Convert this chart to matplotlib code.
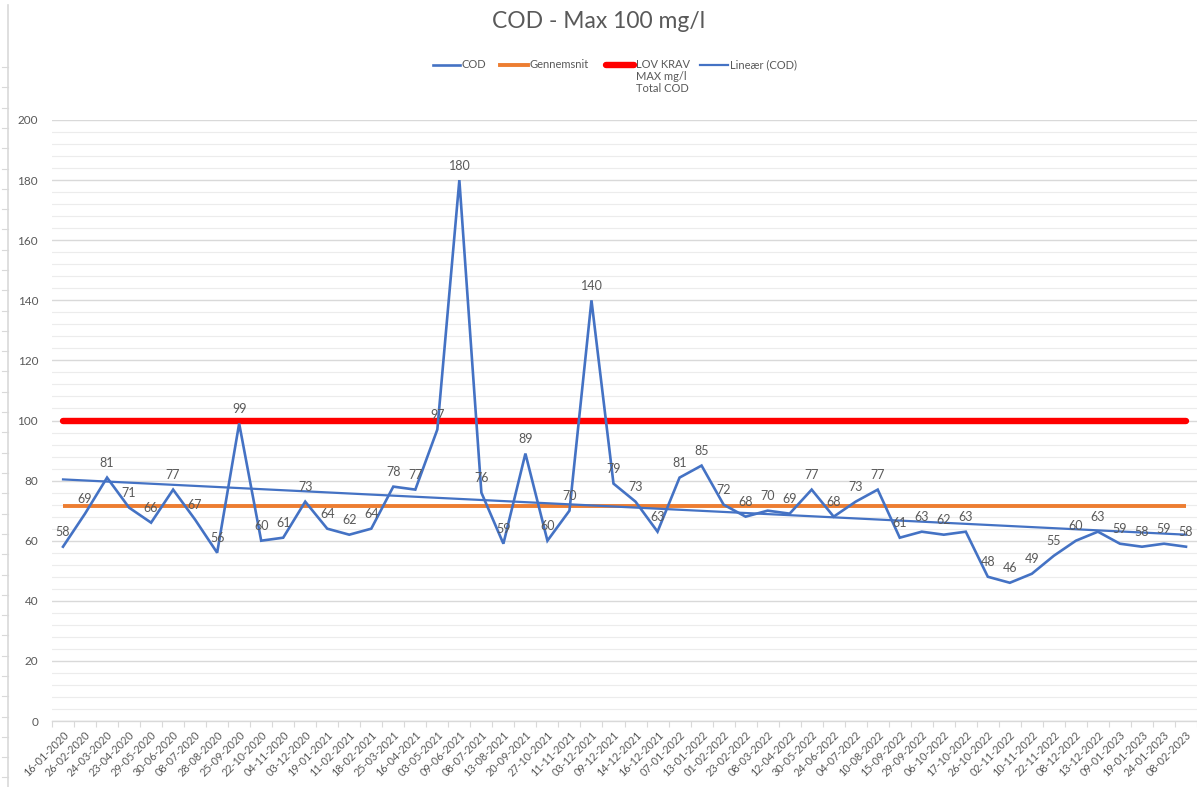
import matplotlib
matplotlib.use("Agg")
import matplotlib.pyplot as plt
from matplotlib.lines import Line2D
import numpy as np

plt.rcParams['font.family'] = ['Lato', 'DejaVu Sans']

dates = ["16-01-2020", "26-02-2020", "24-03-2020", "23-04-2020", "29-05-2020", "30-06-2020",
         "08-07-2020", "28-08-2020", "25-09-2020", "22-10-2020", "04-11-2020", "03-12-2020",
         "19-01-2021", "11-02-2021", "18-02-2021", "25-03-2021", "16-04-2021", "03-05-2021",
         "09-06-2021", "08-07-2021", "13-08-2021", "20-09-2021", "27-10-2021", "11-11-2021",
         "03-12-2021", "09-12-2021", "14-12-2021", "16-12-2021", "07-01-2022", "13-01-2022",
         "01-02-2022", "23-02-2022", "08-03-2022", "12-04-2022", "30-05-2022", "24-06-2022",
         "04-07-2022", "10-08-2022", "15-09-2022", "29-09-2022", "06-10-2022", "17-10-2022",
         "26-10-2022", "02-11-2022", "10-11-2022", "22-11-2022", "08-12-2022", "13-12-2022",
         "09-01-2023", "19-01-2023", "24-01-2023", "08-02-2023"]
cod = [58, 69, 81, 71, 66, 77, 67, 56, 99, 60, 61, 73,
       64, 62, 64, 78, 77, 97, 180, 76, 59, 89, 60, 70,
       140, 79, 73, 63, 81, 85, 72, 68, 70, 69, 77, 68,
       73, 77, 61, 63, 62, 63, 48, 46, 49, 55, 60, 63,
       59, 58, 59, 58]
gennemsnit = 71.4
lov_krav = 100
trend_start = 80.4
trend_end = 62.0
series_names = ["COD", "Gennemsnit", "LOV KRAV\nMAX mg/l\nTotal COD", "Lineær (COD)"]

BLUE = "#4472C4"
ORANGE = "#ED7D31"
RED = "#FF0000"
TXT = "#595959"

W, H = 1197, 787
fig = plt.figure(figsize=(W/100, H/100), dpi=100)
ax = fig.add_axes([52/W, 1-721/H, (W-52)/W, (721-120)/H])

n = len(cod)
x = np.arange(n)

# gridlines
for v in range(0, 201, 4):
    if v % 20 == 0:
        ax.axhline(v, color="#d9d9d9", lw=1.0, zorder=0)
    else:
        ax.axhline(v, color="#ececec", lw=0.8, zorder=0)

ax.plot([x[0], x[-1]], [lov_krav, lov_krav], color=RED, lw=4.6, solid_capstyle='round', zorder=2)
ax.plot([x[0], x[-1]], [gennemsnit, gennemsnit], color=ORANGE, lw=2.8, solid_capstyle='butt', zorder=2)
ax.plot([x[0], x[-1]], [trend_start, trend_end], color=BLUE, lw=1.6, zorder=3)
ax.plot(x, cod, color=BLUE, lw=1.9, zorder=4, solid_joinstyle='miter')

for xi, v in zip(x, cod):
    ax.annotate(str(v), (xi, v), xytext=(0, 6), textcoords='offset points',
                ha='center', va='bottom', fontsize=9, color=TXT, zorder=5)

ax.set_xlim(-0.5, n - 0.5)
ax.set_ylim(0, 200)
ax.set_yticks(range(0, 201, 20))
ax.set_yticklabels([str(v) for v in range(0, 201, 20)])
ax.tick_params(axis='y', length=0, labelsize=8.5, labelcolor=TXT, pad=10)
ax.set_xticks(x)
ax.set_xticklabels(dates, rotation=45, ha='right', rotation_mode='anchor')
ax.tick_params(axis='x', length=0, labelsize=7.8, labelcolor=TXT, pad=6)
ax.set_xticks(np.arange(n + 1) - 0.5, minor=True)
ax.tick_params(axis='x', which='minor', length=4, color="#d9d9d9", width=0.8)
for s in ['top', 'right', 'left']:
    ax.spines[s].set_visible(False)
ax.spines['bottom'].set_color("#d9d9d9")
ax.spines['bottom'].set_linewidth(1.0)

fig.text(0.5, 1-22/H, "COD - Max 100 mg/l", ha='center', va='center', fontsize=16.5, color=TXT)

# manual legend (positions in pixels)
leg_y = 65
leg_items = [
    (433, 460, dict(color=BLUE, lw=1.9)),
    (500, 528, dict(color=ORANGE, lw=2.8)),
    (606, 634, dict(color=RED, lw=4.6, solid_capstyle='round')),
    (700, 728, dict(color=BLUE, lw=1.6)),
]
for (x0, x1, style), name in zip(leg_items, series_names):
    fig.add_artist(Line2D([x0/W, x1/W], [1-leg_y/H, 1-leg_y/H], transform=fig.transFigure, **style))
    fig.text((x1+2)/W, 1-(leg_y-5.5)/H, name, ha='left', va='top', fontsize=8,
             color=TXT, linespacing=1.1)

# spreadsheet edge artifact
fig.add_artist(Line2D([8/W, 8/W], [0, 1-5/H], color="#d9d9d9", lw=1.2, transform=fig.transFigure))
for yy in np.arange(67, H, 20.3):
    fig.add_artist(Line2D([2/W, 8/W], [1-yy/H, 1-yy/H], color="#d9d9d9", lw=0.8, transform=fig.transFigure))

fig.savefig("out.png", dpi=100)
